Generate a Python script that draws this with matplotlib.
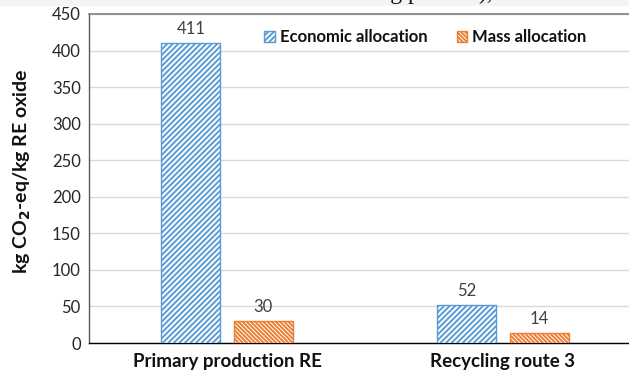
import matplotlib
matplotlib.use("Agg")
import matplotlib.pyplot as plt
import numpy as np
from matplotlib.patches import Patch, Rectangle

categories = ["Primary production RE", "Recycling route 3"]
economic = [411, 52]
mass = [30, 14]
series_names = ["Economic allocation", "Mass allocation"]
yticks = [0, 50, 100, 150, 200, 250, 300, 350, 400, 450]

blue = "#5B9BD5"
orange = "#ED7D31"

plt.rcParams["font.family"] = ["Lato", "DejaVu Sans"]
plt.rcParams["hatch.linewidth"] = 1.4

fig = plt.figure(figsize=(6.29, 3.73), dpi=100)
# page strip above chart (cropped document text)
fig.patches.append(Rectangle((0, 1 - 6 / 373), 1, 6 / 373, transform=fig.transFigure,
                             facecolor="#f4f4f4", edgecolor="none", zorder=0))
fig.text(493 / 629, 1 + 1 / 373, "of the manufacturing process),", ha="right", va="baseline",
         family="Liberation Serif", fontsize=17, color="#111111")

ax = fig.add_axes([89 / 629, 30 / 373, 1 - 89 / 629, 329 / 373])

x = np.arange(len(categories))
w = 0.214
off = 0.131
hb = "//////"
ho = "\\\\\\\\\\\\\\\\"
b1 = ax.bar(x - off, economic, w, facecolor="white", edgecolor=blue, hatch=hb,
            linewidth=1.0, zorder=3)
b2 = ax.bar(x + off, mass, w, facecolor="white", edgecolor=orange, hatch=ho,
            linewidth=1.0, zorder=3)

for bars, vals in ((b1, economic), (b2, mass)):
    for r, v in zip(bars, vals):
        ax.text(r.get_x() + r.get_width() / 2, v + 8, f"{v}", ha="center", va="bottom",
                fontsize=12, color="#404040")

ax.set_xlim(-0.5, 1 + 126 / 276)
ax.set_ylim(0, 450)
ax.set_yticks(yticks)
ax.set_yticklabels([str(t) for t in yticks], fontsize=12, color="#262626")
ax.set_xticks(x)
ax.set_xticklabels(categories, fontsize=13.5, fontweight="bold", color="#111111")
ax.tick_params(axis="both", length=0)
ax.tick_params(axis="x", pad=7)
ax.tick_params(axis="y", pad=6)
ax.yaxis.grid(True, color="#d9d9d9", linewidth=1.0, zorder=0)
ax.set_axisbelow(True)

ax.spines["right"].set_visible(False)
ax.spines["top"].set_color("#7f7f7f")
ax.spines["top"].set_linewidth(1.2)
ax.spines["left"].set_color("#595959")
ax.spines["left"].set_linewidth(1.0)
ax.spines["bottom"].set_color("#000000")
ax.spines["bottom"].set_linewidth(1.0)

fig.text(22 / 629, 1 - 171 / 373, "kg CO$_\\mathbf{2}$-eq/kg RE oxide", rotation=90,
         ha="center", va="center", fontsize=14, fontweight="bold", color="#111111")

handles = [Patch(facecolor="white", edgecolor=blue, hatch=hb, linewidth=1.0),
           Patch(facecolor="white", edgecolor=orange, hatch=ho, linewidth=1.0)]
leg = ax.legend(handles, series_names, loc="center left", ncol=2, frameon=False,
                bbox_to_anchor=((264 - 89) / (629 - 89), 1 - (37 - 14) / 329),
                bbox_transform=ax.transAxes, handlelength=0.65, handleheight=0.65,
                handletextpad=0.3, columnspacing=1.75, borderaxespad=0, borderpad=0,
                prop={"weight": "bold", "size": 12})
for t in leg.get_texts():
    t.set_color("#111111")

fig.savefig("out.png", dpi=100)
